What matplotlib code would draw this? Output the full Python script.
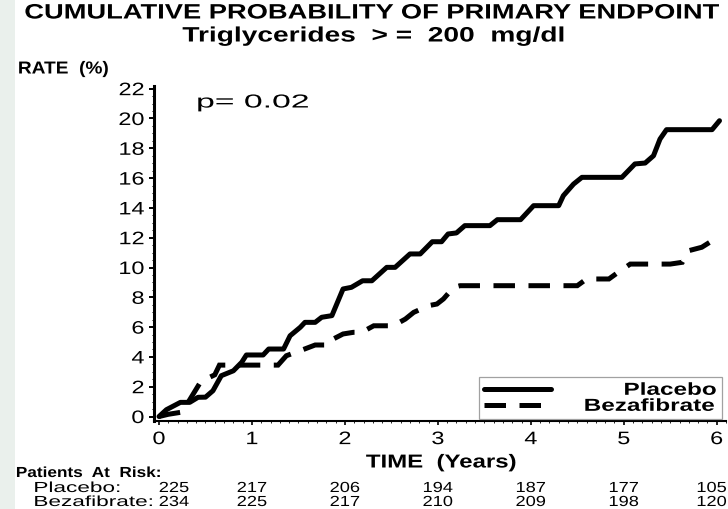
import matplotlib
matplotlib.use("Agg")
import matplotlib.pyplot as plt
from matplotlib.patheffects import AbstractPathEffect
from matplotlib.transforms import Affine2D, offset_copy, blended_transform_factory
from matplotlib.patches import Rectangle
from matplotlib.ticker import MultipleLocator

plt.rcParams["font.family"] = ["Liberation Sans", "DejaVu Sans"]

# ---- data -------------------------------------------------------------
placebo_t = [0, 0.08, 0.23, 0.33, 0.42, 0.50, 0.58, 0.67, 0.80, 0.89, 0.94,
             1.12, 1.18, 1.34, 1.41, 1.52, 1.57, 1.68, 1.75, 1.86, 1.98,
             2.07, 2.19, 2.29, 2.45, 2.54, 2.70, 2.81, 2.94, 3.04, 3.11,
             3.20, 3.29, 3.56, 3.64, 3.89, 4.03, 4.30, 4.35, 4.46, 4.55,
             4.98, 5.12, 5.23, 5.32, 5.39, 5.46, 5.95, 6.03]
placebo_rate = [0, 0.46, 0.95, 0.95, 1.29, 1.30, 1.73, 2.74, 3.07, 3.64, 4.13,
                4.13, 4.53, 4.53, 5.42, 5.99, 6.32, 6.32, 6.66, 6.77, 8.56,
                8.67, 9.11, 9.11, 10.01, 10.01, 10.91, 10.91, 11.73, 11.73, 12.25,
                12.32, 12.81, 12.81, 13.21, 13.21, 14.15, 14.15, 14.82, 15.60, 16.05,
                16.05, 16.95, 17.01, 17.50, 18.62, 19.25, 19.25, 19.85]

beza_t = [0, 0.10, 0.25, 0.45, 0.50, 0.60, 0.65, 1.28, 1.37, 1.52, 1.68, 1.82,
          1.84, 1.98, 2.09, 2.18, 2.31, 2.52, 2.65, 2.74, 2.90, 2.99, 3.06,
          3.17, 3.24, 4.50, 4.60, 4.84, 4.94, 5.07, 5.50, 5.63, 5.70, 5.84,
          5.98, 6.03]
beza_rate = [0, 0.15, 0.30, 2.35, 2.50, 2.80, 3.45, 3.45, 4.08, 4.42, 4.80, 4.80,
             5.09, 5.54, 5.65, 5.65, 6.09, 6.09, 6.54, 6.99, 7.44, 7.55, 7.89,
             8.67, 8.78, 8.78, 9.23, 9.23, 9.68, 10.23, 10.23, 10.35, 11.13, 11.36,
             11.91, 12.00]

series_names = ["Placebo", "Bezafibrate"]
risk_times = [0, 1, 2, 3, 4, 5, 6]
risk_placebo = [225, 217, 206, 194, 187, 177, 105]
risk_beza = [234, 225, 217, 210, 209, 198, 120]
x_ticks = [0, 1, 2, 3, 4, 5, 6]
y_ticks = list(range(0, 23, 2))
p_label = "p= 0.02"

W, H = 728, 510


class Widen(AbstractPathEffect):
    """Draw text glyphs stretched horizontally about one edge or the centre."""

    def __init__(self, sx, anchor="center"):
        super().__init__()
        self.sx = sx
        self.anchor = anchor

    def draw_path(self, renderer, gc, tpath, affine, rgbFace=None):
        ext = tpath.get_extents(affine)
        x0 = {"left": ext.x0, "center": 0.5 * (ext.x0 + ext.x1),
              "right": ext.x1}[self.anchor]
        t = affine + Affine2D().translate(-x0, 0).scale(self.sx, 1).translate(x0, 0)
        renderer.draw_path(gc, tpath, t, rgbFace)


fig = plt.figure(figsize=(W / 100, H / 100), dpi=100)
fig.patch.set_facecolor("white")
fig.patches.append(Rectangle((0, 0), 15 / W, 1, transform=fig.transFigure,
                             facecolor="#eaf0ec", edgecolor="none", zorder=-1))


def ftext(x, y, s, size, sx, ha="center", weight="normal"):
    return fig.text(x / W, 1 - y / H, s, fontsize=size, ha=ha, va="center",
                    weight=weight, color="black",
                    path_effects=[Widen(sx, ha)])


ax = fig.add_axes([154 / W, 1 - 421.7 / H, 572 / W, 335 / H])
ax.set_facecolor("none")

lw = 3.6
l1, = ax.plot(placebo_t, placebo_rate, color="black", lw=lw,
              solid_joinstyle="round", solid_capstyle="round",
              label="      " + series_names[0])
l2, = ax.plot(beza_t, beza_rate, color="black", lw=lw,
              linestyle=(0, (4.3, 2.7)), dash_capstyle="butt",
              dash_joinstyle="miter", label=series_names[1])

ax.set_xlim(-0.054, 6.1)
ax.set_ylim(-0.28, 22.2)
for side in ("top", "right"):
    ax.spines[side].set_visible(False)
ax.spines["left"].set_linewidth(2.2)
ax.spines["bottom"].set_linewidth(1.5)

ax.set_xticks(x_ticks)
ax.set_yticks(y_ticks)
ax.xaxis.set_minor_locator(MultipleLocator(0.1))
ax.yaxis.set_minor_locator(MultipleLocator(0.5))
ax.tick_params(axis="y", which="major", length=3.5, width=1.4, pad=3.5,
               labelsize=13, direction="out")
ax.tick_params(axis="y", which="minor", length=1.8, width=0.7, direction="out")
ax.tick_params(axis="x", which="major", length=3, width=1.2, pad=4.5,
               labelsize=13, direction="out")
ax.tick_params(axis="x", which="minor", length=1.5, width=0.6, direction="out")
for lbl in ax.get_yticklabels():
    lbl.set_path_effects([Widen(1.3, "right")])
for lbl in ax.get_xticklabels():
    lbl.set_path_effects([Widen(1.3, "center")])

leg = ax.legend(handles=[l1, l2], loc="lower right",
                bbox_to_anchor=(0.993, 0.005), borderaxespad=0,
                prop={"weight": "bold", "size": 12.5}, frameon=True,
                fancybox=False, edgecolor="#8a8a8a", handlelength=3.9,
                handletextpad=4.0, borderpad=0.3, labelspacing=0.05)
leg.get_frame().set_linewidth(0.9)
for t in leg.get_texts():
    t.set_path_effects([Widen(1.4, "right")])

ftext(197, 104, p_label, 13.5, 1.8, ha="left")

ftext(372, 14, "CUMULATIVE PROBABILITY OF PRIMARY ENDPOINT", 15, 1.31, weight="bold")
ftext(374, 37, "Triglycerides  > =  200  mg/dl", 15, 1.35, weight="bold")
ftext(18, 70, "RATE  (%)", 12.5, 1.1, ha="left", weight="bold")
ftext(441, 464, "TIME  (Years)", 13.5, 1.28, weight="bold")
ftext(16, 474, "Patients  At  Risk:", 10.5, 1.18, ha="left", weight="bold")
ftext(34, 489, series_names[0] + ":", 10.5, 1.55, ha="left")
ftext(34, 503, series_names[1] + ":", 10.5, 1.55, ha="left")

blend = blended_transform_factory(ax.transData, fig.transFigure)
for row, ypix in ((risk_placebo, 489), (risk_beza, 503)):
    for i, (t, n) in enumerate(zip(risk_times, row)):
        dx = 15 if i == 0 else (-5 if i == len(risk_times) - 1 else 0)
        tr = offset_copy(blend, fig=fig, x=dx, y=0, units="dots")
        ax.text(t, 1 - ypix / H, str(n), transform=tr, fontsize=10.5,
                ha="center", va="center", clip_on=False,
                path_effects=[Widen(1.25, "center")])

fig.savefig("out.png", dpi=100)
